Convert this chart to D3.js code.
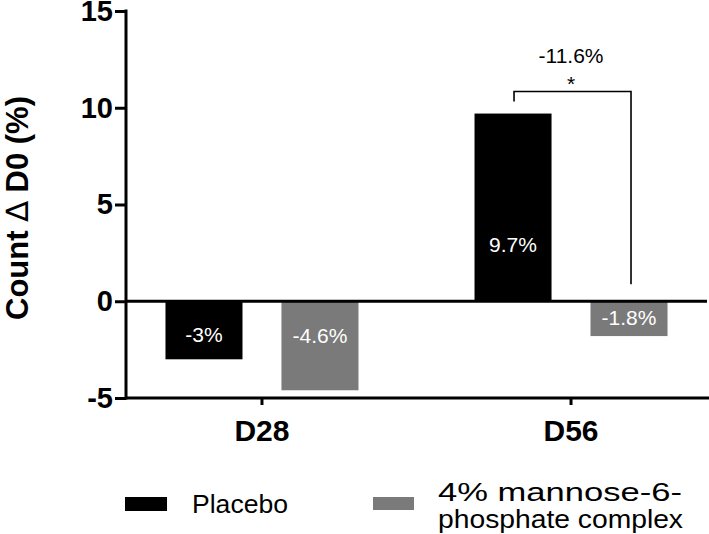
<!DOCTYPE html>
<html>
<head>
<meta charset="utf-8">
<script src="https://cdn.jsdelivr.net/npm/d3@7"></script>
<style>
  html, body { margin: 0; padding: 0; background: #fff; }
  svg { display: block; font-family: "Liberation Sans", Arial, Helvetica, sans-serif; }
</style>
</head>
<body>
<svg id="chart" width="709" height="534"></svg>
<script>
// ---- data ----
const categories = ["D28", "D56"];
const seriesNames = ["Placebo", "4% mannose-6-phosphate complex"];
const placeboValues = [-3, 9.7];
const mannoseValues = [-4.6, -1.8];
const placeboLabels = ["-3%", "9.7%"];
const mannoseLabels = ["-4.6%", "-1.8%"];
const yTicks = [-5, 0, 5, 10, 15];
const yTickLabels = ["-5", "0", "5", "10", "15"];
const yDomain = [-5, 15];
const yTitleParts = ["Count ", "\u2206", " D0 (%)"];
const bracketCategory = "D56";
const bracketDiffLabel = "-11.6%";
const bracketSig = "*";
const legendLines = [["Placebo"], ["4% mannose-6-", "phosphate complex"]];

const colors = ["#000000", "#7a7a7a"];

const svg = d3.select("#chart");

const axisLeftX = 126;
const plotRight = 707;
const y = d3.scaleLinear().domain(yDomain).range([398, 11]);

const x = d3.scalePoint().domain(categories).range([axisLeftX, plotRight]).padding(0.44);
const xInner = d3.scaleBand().domain(seriesNames).range([-96.5, 96.5]).paddingInner(0.336).paddingOuter(0);

const rows = categories.map((c, i) => ({
  cat: c,
  vals: [
    { s: seriesNames[0], v: placeboValues[i], label: placeboLabels[i], color: colors[0] },
    { s: seriesNames[1], v: mannoseValues[i], label: mannoseLabels[i], color: colors[1] }
  ]
}));

// bars
const g = svg.append("g");
rows.forEach(r => {
  r.vals.forEach(d => {
    const bx = x(r.cat) + xInner(d.s);
    g.append("rect")
      .attr("x", bx)
      .attr("width", xInner.bandwidth())
      .attr("y", Math.min(y(d.v), y(0)))
      .attr("height", Math.abs(y(d.v) - y(0)))
      .attr("fill", d.color);
  });
});

// value labels inside bars (pixel offsets from zero line for label baselines)
const labelBaselineOffset = { "D28": [41, 42], "D56": [-49, 24] };
rows.forEach(r => {
  r.vals.forEach((d, j) => {
    const bx = x(r.cat) + xInner(d.s) + xInner.bandwidth() / 2;
    g.append("text")
      .attr("x", bx)
      .attr("y", y(0) + labelBaselineOffset[r.cat][j])
      .attr("text-anchor", "middle")
      .attr("fill", "#ffffff")
      .style("font-size", "21px")
      .text(d.label);
  });
});

// zero line
svg.append("line")
  .attr("x1", axisLeftX).attr("x2", plotRight)
  .attr("y1", y(0)).attr("y2", y(0))
  .attr("stroke", "#000").attr("stroke-width", 3);

// bottom x axis
const xAxisG = svg.append("g").attr("transform", `translate(0,${y(yDomain[0])})`);
xAxisG.append("line")
  .attr("x1", axisLeftX).attr("x2", 709)
  .attr("y1", 0).attr("y2", 0)
  .attr("stroke", "#000").attr("stroke-width", 3);
categories.forEach(c => {
  xAxisG.append("line")
    .attr("x1", x(c)).attr("x2", x(c))
    .attr("y1", 0).attr("y2", 7)
    .attr("stroke", "#000").attr("stroke-width", 3);
  xAxisG.append("text")
    .attr("x", x(c))
    .attr("y", 43)
    .attr("text-anchor", "middle")
    .style("font-size", "30px")
    .style("font-weight", "bold")
    .text(c);
});

// y axis
const yAxis = d3.axisLeft(y).tickValues(yTicks).tickSize(11).tickPadding(2)
  .tickFormat((d, i) => yTickLabels[i]);
const yAxisG = svg.append("g").attr("transform", `translate(${axisLeftX},0)`).call(yAxis);
yAxisG.select(".domain").remove();
yAxisG.selectAll(".tick line").attr("stroke", "#000").attr("stroke-width", 3);
yAxisG.selectAll(".tick text")
  .style("font-family", "'Liberation Sans', Arial, sans-serif")
  .style("font-size", "29px")
  .style("font-weight", "bold")
  .attr("fill", "#000");
yAxisG.append("line")
  .attr("x1", 0).attr("x2", 0)
  .attr("y1", y(yDomain[1]) - 1.5).attr("y2", y(yDomain[0]) + 1.5)
  .attr("stroke", "#000").attr("stroke-width", 3);

// y title
const yt = svg.append("text")
  .attr("transform", `translate(28,208) rotate(-90)`)
  .attr("text-anchor", "middle")
  .style("font-size", "31px")
  .style("font-weight", "bold");
yt.append("tspan").text(yTitleParts[0]);
yt.append("tspan").style("font-weight", "normal").style("font-family", "'DejaVu Sans', sans-serif").style("font-size", "31px").text(yTitleParts[1]);
yt.append("tspan").text(yTitleParts[2]);

// significance bracket
const bi = categories.indexOf(bracketCategory);
const bxL = x(bracketCategory) + xInner(seriesNames[0]) + xInner.bandwidth() / 2 + 1;
const bxR = x(bracketCategory) + xInner(seriesNames[1]) + xInner.bandwidth() / 2 + 2;
const bTop = y(placeboValues[bi]) - 22;
const bracket = d3.path();
bracket.moveTo(bxL, y(placeboValues[bi]) - 12);
bracket.lineTo(bxL, bTop);
bracket.lineTo(bxR, bTop);
bracket.lineTo(bxR, y(0) - 17);
svg.append("path")
  .attr("d", bracket.toString())
  .attr("fill", "none")
  .attr("stroke", "#000")
  .attr("stroke-width", 1.6);
svg.append("text")
  .attr("x", x(bracketCategory))
  .attr("y", bTop - 29)
  .attr("text-anchor", "middle")
  .style("font-size", "21px")
  .text(bracketDiffLabel);
svg.append("text")
  .attr("x", x(bracketCategory))
  .attr("y", bTop - 1)
  .attr("text-anchor", "middle")
  .style("font-size", "21px")
  .text(bracketSig);

// legend
const legendItems = [
  { sx: 125, sw: 42, sy: 497, sh: 14, tx: 192, ty: [513], len: [96], color: colors[0], lines: legendLines[0] },
  { sx: 373, sw: 41, sy: 497, sh: 13, tx: 438, ty: [501, 528], len: [244, 245], color: colors[1], lines: legendLines[1] }
];
legendItems.forEach(li => {
  svg.append("rect")
    .attr("x", li.sx).attr("y", li.sy)
    .attr("width", li.sw).attr("height", li.sh)
    .attr("fill", li.color);
  li.lines.forEach((t, k) => {
    svg.append("text")
      .attr("x", li.tx)
      .attr("y", li.ty[k])
      .attr("textLength", li.len[k])
      .attr("lengthAdjust", "spacingAndGlyphs")
      .style("font-size", "26px")
      .text(t);
  });
});
</script>
</body>
</html>
